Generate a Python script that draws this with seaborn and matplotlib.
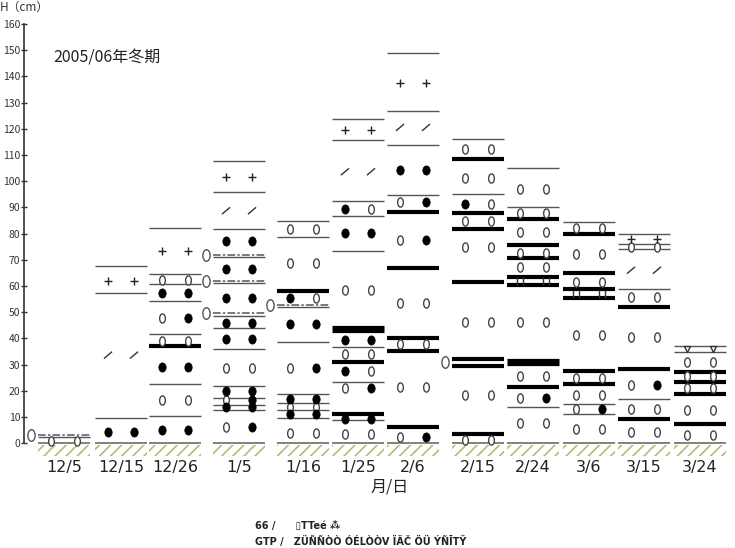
#%% LIB
import matplotlib
matplotlib.use("Agg")
import matplotlib.pyplot as plt
import matplotlib.patches as mpatches
from matplotlib.path import Path
import pandas as pd
import seaborn as sns

#%% DATA
# ---------------------------------------------------
# Snow pit observations, heights in cm
# ---------------------------------------------------
dates = ["12/5", "12/15", "12/26", "1/5", "1/16", "1/25",
         "2/6", "2/15", "2/24", "3/6", "3/15", "3/24"]

# layer boundaries, one list per pit (same order as dates)
thin_lines = [
    [2.3],
    [67.6, 57.4, 9.4],
    [82.3, 64.4, 60.6, 54.3, 41.6, 22.5, 10.4],
    [107.8, 95.7, 81.8, 70.9, 61.0, 48.6, 43.8, 35.8, 21.8, 17.4, 14.4, 12.6],
    [84.8, 78.8, 51.9, 38.7, 18.6, 15.5, 12.5, 9.4],
    [123.6, 115.7, 92.4, 86.8, 73.4, 36.8, 23.4, 8.8],
    [148.8, 126.9, 113.8, 94.7],
    [116.1, 95.1],
    [104.9, 90.0, 13.9],
    [84.3, 14.9, 11.0],
    [79.7, 76.0, 74.0, 58.8, 16.8],
    [37.0, 34.9],
]
thick_lines = [
    [],
    [],
    [37.0],
    [],
    [58.2],
    [31.0, 11.0],
    [88.3, 67.0, 40.2, 35.1, 6.2],
    [108.3, 87.7, 81.7, 61.6, 32.2, 29.4, 3.4],
    [85.4, 75.6, 70.5, 63.5, 60.3, 21.4],
    [79.7, 64.8, 58.7, 55.5, 27.5, 22.4],
    [52.0, 28.3, 9.2],
    [27.2, 23.4, 18.6, 7.3],
]
heavy_lines = [[], [], [], [], [], [43.4], [], [], [31.0], [], [], []]
dashdot_lines = [[3.0], [], [], [71.7, 62.0, 49.5], [52.6], [], [], [], [], [], [], []]

# grain shapes: o = rounded, * = melt form, + = new snow, / = decomposed, v = surface hoar
grain_h = [
    [0.8],
    [62.0, 33.6, 4.3],
    [73.4, 62.2, 57.2, 47.7, 39.0, 29.1, 16.4, 5.0],
    [101.7, 88.7, 77.3, 66.3, 55.5, 45.9, 39.6, 28.5, 20.0, 16.4, 13.9, 6.2],
    [81.7, 68.6, 55.5, 45.3, 28.5, 17.0, 13.9, 11.0, 3.9],
    [119.5, 103.6, 89.2, 80.1, 58.4, 39.3, 33.9, 27.5, 20.9, 9.2, 3.4],
    [137.6, 120.5, 104.2, 92.1, 77.5, 53.3, 37.7, 21.5, 2.4],
    [112.3, 101.3, 91.3, 84.9, 74.7, 46.3, 18.3, 1.1],
    [97.2, 87.7, 80.7, 72.7, 67.3, 46.1, 25.7, 17.3, 7.5],
    [82.0, 72.2, 61.6, 41.2, 24.7, 18.3, 12.9, 5.3],
    [77.8, 75.0, 66.0, 55.6, 40.4, 22.1, 13.0, 4.3],
    [36.0, 31.0, 25.7, 20.9, 12.6, 3.0],
]
grain_left = ["o", "+/*", "+o*oo*o*", "+/*****o*o*o", "oo**o*o*o", "+/**o*o*o*o",
              "+/*oooooo", "oo*ooooo", "ooooooooo", "oooooooo", "+o/ooooo", "vooooo"]
grain_right = ["o", "+/*", "+o**o*o*", "+/*****o****", "ooo***o*o", "+/o*o*oo**o",
               "+/***ooo*", "oooooooo", "ooooooo*o", "oooooo*o", "+o/oo*oo", "vooooo"]

# extra marks beside a pit (wet layer) and ice lenses
side_marks = [[3.0], [], [], [71.7, 62.0, 49.5], [52.6], [], [], [31.0], [], [], [], []]
ice_marks = [[], [], [], [], [], [], [], [], [62.0], [57.1], [], []]

#%% LAYOUT
col_x = [64, 121, 175, 239, 303, 358, 413, 478, 533, 589, 644, 700]
half_w = 26
sym_dx = 13

sns.set_theme(style="white")
plt.rcParams["font.family"] = ["Noto Sans CJK JP", "DejaVu Sans"]
plt.rcParams["hatch.linewidth"] = 1.2

fig = plt.figure(figsize=(7.35, 5.48), dpi=100)
ax = fig.add_axes([24 / 735, (548 - 457) / 548, (735 - 24) / 735, (457 - 24) / 548])

# ---------------------------------------------------
# Ground and layer boundaries
# ---------------------------------------------------
for i, x in enumerate(col_x):
    ax.add_patch(mpatches.Rectangle((x - half_w, -5.0), 2 * half_w, 4.3,
                                    fill=False, hatch="///", edgecolor="#b9b974",
                                    linewidth=0))
    ax.hlines(0, x - half_w, x + half_w, color="#777777", lw=1.3)
    ax.hlines(thin_lines[i], x - half_w, x + half_w, color="#555555", lw=1.0)
    ax.hlines(thick_lines[i], x - half_w, x + half_w, color="black", lw=3.0)
    ax.hlines(heavy_lines[i], x - half_w, x + half_w, color="black", lw=5.2)
    ax.hlines(dashdot_lines[i], x - half_w, x + half_w, color="#555555", lw=1.1,
              linestyles=[(0, (5, 1.5, 1.5, 1.5))])

# ---------------------------------------------------
# Grain symbols
# ---------------------------------------------------
rows = []
for i, x in enumerate(col_x):
    for h, l, r in zip(grain_h[i], grain_left[i], grain_right[i]):
        rows.append({"x": x - sym_dx, "h": h, "sym": l})
        rows.append({"x": x + sym_dx, "h": h, "sym": r})
grains = pd.DataFrame(rows)

circle = Path.unit_circle()
open_oval = Path(circle.vertices * [0.62, 1.0], circle.codes)
dot_oval = Path(circle.vertices * [0.8, 1.0], circle.codes)
slash = Path([(-1, -0.85), (1, 0.85)], [Path.MOVETO, Path.LINETO])

sym_style = {
    "o": dict(marker=open_oval, s=44, facecolor="white", edgecolor="#444444", linewidth=1.0),
    "*": dict(marker=dot_oval, s=44, facecolor="black", edgecolor="black", linewidth=0.5),
    "+": dict(marker="+", s=26, color="#222222", linewidth=1.0),
    "/": dict(marker=slash, s=34, facecolor="none", edgecolor="#333333", linewidth=1.0),
    "v": dict(marker="v", s=18, facecolor="white", edgecolor="#333333", linewidth=1.0),
}
for code, style in sym_style.items():
    sub = grains[grains["sym"] == code]
    sns.scatterplot(data=sub, x="x", y="h", ax=ax, zorder=3, legend=False, **style)

# ice lens ticks
ice = pd.DataFrame([{"x": x + dx, "h": h}
                    for i, x in enumerate(col_x) for h in ice_marks[i]
                    for dx in (-sym_dx - 3, -sym_dx + 3, sym_dx - 3, sym_dx + 3)])
sns.scatterplot(data=ice, x="x", y="h", ax=ax, marker="|", s=40, color="#333333",
                linewidth=1.0, zorder=3, legend=False)

# wet marks beside pits
side = pd.DataFrame([{"x": x - half_w - 7, "h": h}
                     for i, x in enumerate(col_x) for h in side_marks[i]])
sns.scatterplot(data=side, x="x", y="h", ax=ax, marker=open_oval, s=70,
                facecolor="white", edgecolor="#555555", linewidth=1.0,
                zorder=3, legend=False)

#%% AXES
ax.set_xlim(24, 735)
ax.set_ylim(-5.3, 160)
for side_name in ["top", "right", "bottom"]:
    ax.spines[side_name].set_visible(False)
ax.spines["left"].set_bounds(0, 160)
ax.spines["left"].set_color("#333333")
ax.spines["left"].set_linewidth(1.2)

ax.set_yticks(range(0, 161, 10))
ax.tick_params(axis="y", direction="inout", length=4.5, width=1.0, pad=0.5,
               labelsize=7.5, colors="#333333", left=True)
ax.set_xticks(col_x)
ax.set_xticklabels(dates, fontsize=11.5, color="#222222", family="DejaVu Sans")
ax.tick_params(axis="x", length=0, pad=2)
ax.set_xlabel("")
ax.set_ylabel("")

fig.text(0.0, 1 - 1 / 548, "H（cm）", fontsize=8.5, ha="left", va="top", color="#333333")
fig.text(53 / 735, 1 - 58 / 548, "2005/06年冬期", fontsize=11.5, ha="left", va="center",
         color="#222222")
fig.text(390 / 735, 1 - 487 / 548, "月/日", fontsize=11.5, ha="center", va="center",
         color="#222222")
fig.text(255 / 735, 1 - 526 / 548, "66 /      ▯TTeé ⁂", fontsize=7, ha="left",
         va="center", weight="bold", family="DejaVu Sans", color="#222222")
fig.text(255 / 735, 1 - 541 / 548, "GTP /   ZÜÑÑÒÒ ÓÉLÒÒV ÏÄČ ÖÜ ÝÑĪTŸ", fontsize=7,
         ha="left", va="center", weight="bold", family="DejaVu Sans", color="#222222")

fig.savefig("out.png", dpi=100)
